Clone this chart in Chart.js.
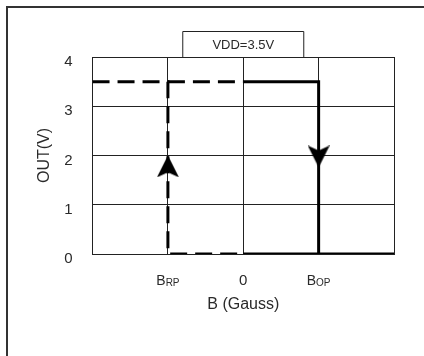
<!DOCTYPE html>
<html>
<head>
<meta charset="utf-8">
<script src="https://cdn.jsdelivr.net/npm/chart.js@4.4.0/dist/chart.umd.min.js"></script>
<style>
  html, body { margin: 0; padding: 0; background: #fff; }
</style>
</head>
<body>
<canvas id="myChart" width="424" height="356"></canvas>
<script>
// hysteresis curve, B (Gauss) vs OUT(V)
let solidX = [0, 1, 1, 2];
let solidY = [3.5, 3.5, 0, 0];
let solidBottomX = [0, 1];
let solidBottomY = [0, 0];
let dashX = [-2, -1, -1, 0];
let dashY = [3.5, 3.5, 0, 0];
let dashTopX = [-1, 0];
let dashTopY = [3.5, 3.5];
let upArrowX = [-1];
let upArrowY = [1.78];
let downArrowX = [1];
let downArrowY = [1.98];

let xTickValues = [-1, 0, 1];
let xTickMain = ["B", "0", "B"];
let xTickSub = ["RP", "", "OP"];
let yTicks = [0, 1, 2, 3, 4];
let boxTitle = "VDD=3.5V";

let fam = "'Liberation Sans', Arial, sans-serif";
let txt = "#2a2a2a";

function pts(xs, ys) {
  return xs.map(function (x, i) { return { x: x, y: ys[i] }; });
}

function arrowImg(up) {
  let c = document.createElement("canvas");
  c.width = 22; c.height = 22;
  let g = c.getContext("2d");
  g.fillStyle = "#000";
  g.beginPath();
  if (up) {
    g.moveTo(11, 0); g.lineTo(22, 22); g.lineTo(11, 17); g.lineTo(0, 22);
  } else {
    g.moveTo(11, 22); g.lineTo(22, 0); g.lineTo(11, 5); g.lineTo(0, 0);
  }
  g.closePath();
  g.fill();
  return c;
}

// page frame, box with the supply voltage, subscripted tick labels
let extras = {
  id: "extras",
  beforeDraw: function (chart) {
    let ctx = chart.ctx;
    ctx.save();
    ctx.strokeStyle = "#333";
    ctx.lineWidth = 2;
    ctx.beginPath();
    ctx.moveTo(7, 356);
    ctx.lineTo(7, 7);
    ctx.lineTo(424, 7);
    ctx.stroke();
    ctx.restore();
  },
  afterDraw: function (chart) {
    let ctx = chart.ctx;
    let area = chart.chartArea;
    let xs = chart.scales.x;
    ctx.save();
    let cx = xs.getPixelForValue(0);
    ctx.strokeStyle = "#222";
    ctx.lineWidth = 1;
    ctx.beginPath();
    ctx.moveTo(cx - 60.5, area.top);
    ctx.lineTo(cx - 60.5, area.top - 25.5);
    ctx.lineTo(cx + 60.5, area.top - 25.5);
    ctx.lineTo(cx + 60.5, area.top);
    ctx.stroke();
    ctx.fillStyle = txt;
    ctx.font = "13px " + fam;
    ctx.textAlign = "center";
    ctx.textBaseline = "middle";
    ctx.fillText(boxTitle, cx, area.top - 12);

    let ty = area.bottom + 27;
    xTickValues.forEach(function (v, i) {
      let px = xs.getPixelForValue(v);
      let sub = xTickSub[i];
      if (sub) {
        ctx.font = "14px " + fam;
        let w1 = ctx.measureText(xTickMain[i]).width;
        ctx.font = "10px " + fam;
        let w2 = ctx.measureText(sub).width;
        let left = px - (w1 + w2) / 2;
        ctx.textAlign = "left";
        ctx.font = "14px " + fam;
        ctx.fillText(xTickMain[i], left, ty);
        ctx.font = "10px " + fam;
        ctx.fillText(sub, left + w1, ty + 2);
      } else {
        ctx.textAlign = "center";
        ctx.font = "15px " + fam;
        ctx.fillText(xTickMain[i], px, ty);
      }
    });
    ctx.restore();
  }
};

let lineBase = {
  showLine: true,
  borderColor: "#000",
  borderWidth: 3,
  pointRadius: 0,
  fill: false,
  tension: 0,
};

let mychart = document.getElementById("myChart").getContext("2d");
let chart = new Chart(mychart, {
  type: "scatter",
  data: {
    datasets: [
      Object.assign({ data: pts(solidX, solidY) }, lineBase),
      Object.assign({ data: pts(solidBottomX, solidBottomY) }, lineBase),
      Object.assign({ data: pts(dashX, dashY), borderDash: [17, 8] }, lineBase),
      Object.assign({ data: pts(dashTopX, dashTopY), borderDash: [17, 8] }, lineBase),
      { data: pts(upArrowX, upArrowY), pointStyle: arrowImg(true), pointRadius: 11, showLine: false },
      { data: pts(downArrowX, downArrowY), pointStyle: arrowImg(false), pointRadius: 11, showLine: false },
    ],
  },
  options: {
    responsive: false,
    animation: false,
    events: [],
    layout: { padding: { left: 29, right: 30, top: 57, bottom: 42 } },
    plugins: {
      legend: { display: false },
      tooltip: { enabled: false },
    },
    scales: {
      x: {
        type: "linear",
        min: -2,
        max: 2,
        ticks: { stepSize: 1, display: true, color: "rgba(0,0,0,0)", font: { size: 14 }, padding: 12 },
        grid: { color: "#222", lineWidth: 1, drawTicks: false },
        border: { display: true, color: "#222", width: 1 },
        title: {
          display: true,
          text: "B (Gauss)",
          color: txt,
          font: { size: 16, family: fam },
          padding: { top: 0, bottom: 0 },
        },
      },
      y: {
        min: 0,
        max: 4,
        afterBuildTicks: function (axis) {
          axis.ticks = yTicks.map(function (v) { return { value: v }; });
        },
        ticks: {
          color: txt,
          font: { size: 15, family: fam },
          padding: 20,
          labelOffset: 5,
        },
        grid: { color: "#222", lineWidth: 1, drawTicks: false },
        border: { display: true, color: "#222", width: 1 },
        title: {
          display: true,
          text: "OUT(V)",
          color: txt,
          font: { size: 16, family: fam },
          padding: { top: 6, bottom: -10 },
        },
      },
    },
  },
  plugins: [extras],
});
</script>
</body>
</html>
